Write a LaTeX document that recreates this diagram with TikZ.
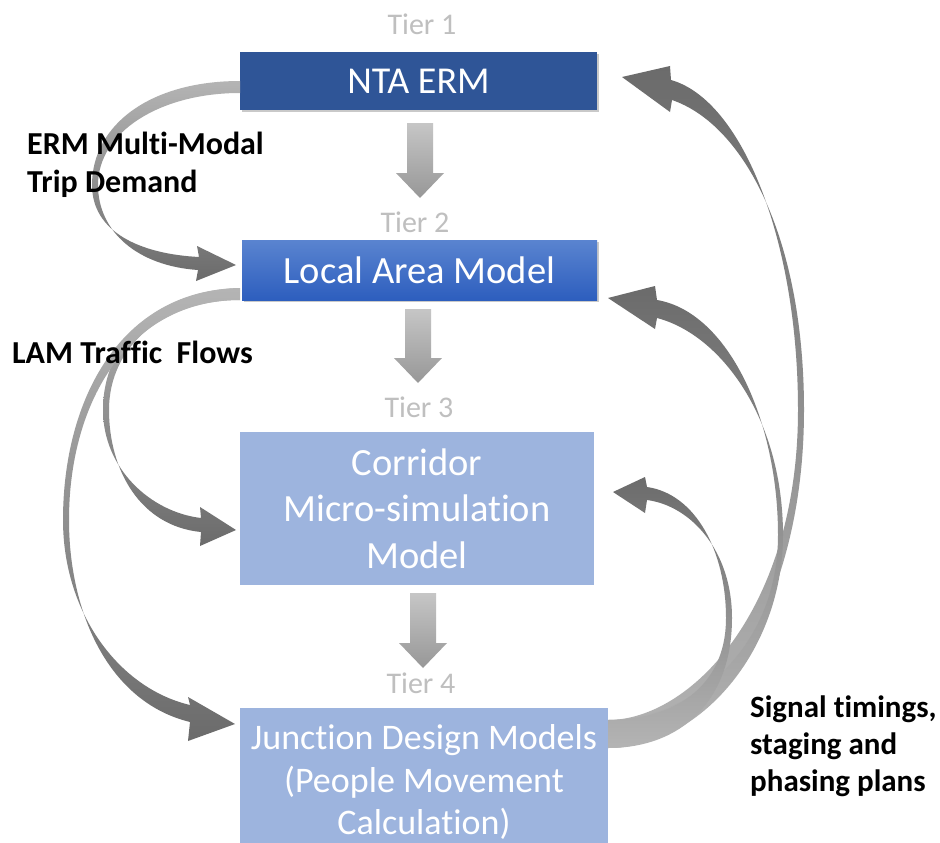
\documentclass[tikz,border=0pt]{standalone}
\usepackage{fontspec}
\setmainfont{Carlito}[Ligatures=NoCommon]
\usetikzlibrary{shadows}
\definecolor{tiergray}{HTML}{BFBFBF}
\definecolor{ermblue}{HTML}{2F5597}
\definecolor{lamtop}{HTML}{5A84D0}
\definecolor{lambot}{HTML}{2D5EBE}
\definecolor{lightblue}{HTML}{9DB4DE}
\definecolor{arrtop}{HTML}{C6C6C6}
\definecolor{arrbot}{HTML}{979797}
\definecolor{curvelight}{HTML}{B4B4B4}
\definecolor{curvedark}{HTML}{6B6B6B}
\begin{document}
\begin{tikzpicture}[x=1pt,y=-1pt,
  box/.style={inner sep=0, align=center, text=white},
  tier/.style={text=tiergray, inner sep=0, font=\fontsize{30}{36}\selectfont},
  lbl/.style={inner sep=0, align=left, text=black, font=\bfseries\fontsize{32}{38}\selectfont},
  bandL/.style={top color=curvelight, bottom color=curvedark},
  bandR/.style={top color=curvedark, bottom color=curvelight},
  tierarr/.style={top color=arrtop, bottom color=arrbot},
  boxshadow/.style={drop shadow={shadow xshift=1.5pt, shadow yshift=-2pt, opacity=0.35, fill=black!60}}]
\useasboundingbox[fill=white] (0,0) rectangle (940,843);

% boxes
\node[box, fill=ermblue, boxshadow, minimum width=357, minimum height=58,
      font=\fontsize{38}{44}\selectfont] (b1) at (418.5,81) {NTA ERM};
\node[box, top color=lamtop, bottom color=lambot, boxshadow, minimum width=355, minimum height=60,
      font=\fontsize{38.5}{44}\selectfont] (b2) at (419.5,270) {Local Area Model};
\node[box, fill=lightblue, minimum width=354, minimum height=153,
      font=\fontsize{38.5}{46.5}\selectfont] (b3) at (417,508.5) {Corridor\\Micro-simulation\\Model};
\node[box, fill=lightblue, minimum width=368, minimum height=148,
      font=\fontsize{36}{42.5}\selectfont] (b4) at (424,782) {Junction Design Models\\(People Movement\\Calculation)};

% tier labels
\node[tier, anchor=base] (t1) at (422,35) {Tier 1};
\node[tier, anchor=base] (t2) at (415,232) {Tier 2};
\node[tier, anchor=base] (t3) at (419,417) {Tier 3};
\node[tier, anchor=base] (t4) at (421,693) {Tier 4};

% tier arrows
\newcommand\tierarrow[3]{%
  \shade[tierarr] (#1-13,#2) -- (#1+13,#2) -- (#1+13,#3-25) -- (#1+24,#3-25)
    -- (#1,#3) -- (#1-24,#3-25) -- (#1-13,#3-25) -- cycle;}
\tierarrow{420}{123}{198}
\tierarrow{418}{309}{383}
\tierarrow{423}{593}{668}

% left curved arrows
\shade[bandL] (240,81) .. controls (150,81) and (92,125) .. (92,185)
  .. controls (92,232) and (140,254) .. (199,257) -- (197,246) -- (236,265) -- (196,281) -- (198,270)
  .. controls (138,266) and (98,232) .. (98,185)
  .. controls (98,132) and (160,93) .. (240,93) -- cycle;
\shade[bandL] (240,288) .. controls (160,290) and (103,340) .. (103,410)
  .. controls (103,468) and (150,512) .. (201,518) -- (200,507) -- (236,530) -- (200,546) -- (201,532)
  .. controls (140,526) and (109,470) .. (109,410)
  .. controls (109,345) and (165,300) .. (240,300) -- cycle;
\shade[bandL] (240,288) .. controls (120,290) and (63,400) .. (63,520)
  .. controls (63,612) and (118,688) .. (190,705) -- (188,697) -- (235,724) -- (188,741) -- (190,722)
  .. controls (108,702) and (69,612) .. (69,520)
  .. controls (69,400) and (130,300) .. (240,300) -- cycle;

% right curved arrows
\shade[bandR] (608,748) .. controls (700,748) and (804,620) .. (804,410)
  .. controls (804,240) and (745,125) .. (672,100) -- (670,112) -- (622,77) -- (670,66) -- (671,80)
  .. controls (742,100) and (798,240) .. (798,410)
  .. controls (798,610) and (690,720) .. (608,720) -- cycle;
\shade[bandR] (608,748) .. controls (700,748) and (783,650) .. (783,535)
  .. controls (783,420) and (722,335) .. (657,318) -- (655,329) -- (608,298) -- (655,286) -- (657,300)
  .. controls (728,312) and (778,420) .. (778,535)
  .. controls (778,650) and (690,720) .. (608,720) -- cycle;
\shade[bandR] (608,748) .. controls (682,748) and (732,700) .. (732,618)
  .. controls (732,552) and (692,506) .. (647,500) -- (645,513) -- (613,492) -- (645,477) -- (647,487)
  .. controls (696,494) and (726,552) .. (726,618)
  .. controls (726,690) and (670,720) .. (608,720) -- cycle;

% labels
\node[lbl, anchor=north west] (l1) at (27,132) {ERM Multi-Modal\\Trip Demand};
\node[lbl, anchor=base west] (l2) at (12,363) {LAM Traffic\ \ Flows};
\node[lbl, anchor=north west, font=\bfseries\fontsize{31}{37}\selectfont] (l3) at (750,696) {Signal timings,\\staging and\\phasing plans};
\end{tikzpicture}
\end{document}
